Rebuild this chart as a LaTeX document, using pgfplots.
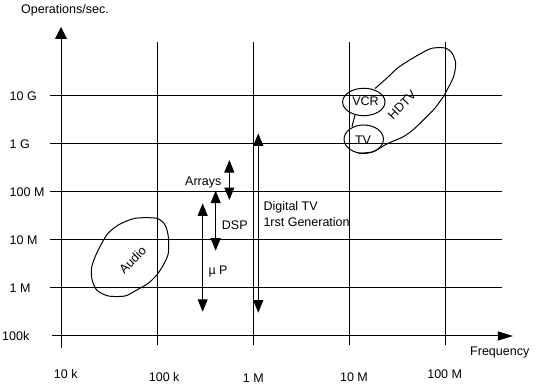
\documentclass[border=0pt]{standalone}
\usepackage{pgfplots}
\pgfplotsset{compat=1.18}
\usepackage{fontspec}
\setmainfont{Liberation Sans}
\usetikzlibrary{arrows.meta}
\tikzset{tri/.tip={Triangle[width=10bp,length=12.5bp]},
  ytri/.tip={Triangle[width=12bp,length=12bp]},
  xtri/.tip={Triangle[width=9bp,length=15bp]}}
\begin{document}%
\fontsize{12.5bp}{15bp}\selectfont%
\begin{tikzpicture}
\begin{axis}[
  scale only axis, width=537bp, height=388bp,
  xmode=log, ymode=log,
  xmin=2318, xmax=8.998e8, ymin=8254, ymax=1e12,
  hide axis, clip=false, no markers,
  every axis plot/.append style={line width=1bp, black, mark=none},
]
% horizontal grid lines
\draw[line width=1bp] (axis cs:7.68e3,1e10) -- (axis cs:3.89e8,1e10);
\draw[line width=1bp] (axis cs:7.68e3,1e9) -- (axis cs:3.89e8,1e9);
\draw[line width=1bp] (axis cs:7.68e3,1e8) -- (axis cs:3.89e8,1e8);
\draw[line width=1bp] (axis cs:7.68e3,1e7) -- (axis cs:3.89e8,1e7);
\draw[line width=1bp] (axis cs:7.68e3,1e6) -- (axis cs:3.89e8,1e6);
% x axis
\draw[line width=1bp,-xtri] (axis cs:8.06e3,1e5) -- (axis cs:5.06e8,1e5);
% vertical grid lines
\draw[line width=1bp] (axis cs:1e5,6.49e4) -- (axis cs:1e5,1.33e11);
\draw[line width=1bp] (axis cs:1e6,6.49e4) -- (axis cs:1e6,1.33e11);
\draw[line width=1bp] (axis cs:1e7,6.49e4) -- (axis cs:1e7,1.33e11);
\draw[line width=1bp] (axis cs:1e8,6.49e4) -- (axis cs:1e8,1.33e11);
% y axis
\draw[line width=1bp,-ytri] (axis cs:1e4,5.62e4) -- (axis cs:1e4,2.74e11);
% tick labels
\node[anchor=west,inner sep=0pt] at (axis cs:2.91e3,1e10) {10 G};
\node[anchor=west,inner sep=0pt] at (axis cs:2.91e3,1e9) {1 G};
\node[anchor=west,inner sep=0pt] at (axis cs:2.91e3,1e8) {100 M};
\node[anchor=west,inner sep=0pt] at (axis cs:2.91e3,1e7) {10 M};
\node[anchor=west,inner sep=0pt] at (axis cs:2.91e3,1e6) {1 M};
\node[anchor=west,inner sep=0pt] at (axis cs:2.43e3,1e5) {100k};
\node[inner sep=0pt] at (axis cs:1.122e4,1.616e4) {10 k};
\node[inner sep=0pt] at (axis cs:1.186e5,1.399e4) {100 k};
\node[inner sep=0pt] at (axis cs:1.003e6,1.334e4) {1 M};
\node[inner sep=0pt] at (axis cs:1.121e7,1.399e4) {10 M};
\node[inner sep=0pt] at (axis cs:9.85e7,1.616e4) {100 M};
\node[anchor=base west,inner sep=0pt] at (axis cs:3.835e3,5.23e11) {Operations/sec.};
\node[anchor=base west,inner sep=0pt] at (axis cs:1.807e8,3.886e4) {Frequency};
% ranges (arrows)
\addplot[tri-tri] coordinates {(2.98e5,5.8e7) (2.98e5,3.2e5)};   % muP
\addplot[tri-tri] coordinates {(4.07e5,1.065e8) (4.07e5,5.99e6)}; % DSP
\addplot[tri-tri] coordinates {(5.65e5,4.64e8) (5.65e5,6.81e7)};  % Arrays
\addplot[tri-tri] coordinates {(1.13e6,1.67e9) (1.13e6,3.06e5)};  % Digital TV
\node[anchor=base west,inner sep=0pt] at (axis cs:3.414e5,1.957e6) {µ P};
\node[anchor=base west,inner sep=0pt] at (axis cs:4.706e5,1.616e7) {DSP};
\node[anchor=base west,inner sep=0pt] at (axis cs:1.953e5,1.353e8) {Arrays};
\node[anchor=base west,inner sep=0pt] at (axis cs:1.275e6,4.077e7) {Digital TV};
\node[anchor=base west,inner sep=0pt] at (axis cs:1.275e6,1.884e7) {1rst Generation};
% Audio region
\addplot[smooth cycle, tension=0.45] coordinates {
 (5.89e4,2.83e7) (9.91e4,2.83e7) (1.21e5,2.054e7) (1.31e5,1.17e7)
 (1.31e5,5.28e6) (1.161e5,3.01e6) (9.91e4,1.866e6) (8.10e4,1.253e6)
 (6.14e4,9.08e5) (4.64e4,6.81e5) (3.11e4,6.81e5) (2.35e4,9.08e5)
 (2.09e4,1.593e6) (2.09e4,2.778e6) (2.35e4,5.28e6) (2.99e4,1.272e7)
 (3.95e4,2.054e7)};
\node[rotate=45,inner sep=0pt] at (axis cs:5.548e4,3.831e6) {Audio};
% HDTV region
\addplot[smooth, tension=0.45] coordinates {
 (1.854e7,1.433e10) (2.45e7,2.337e10) (3.14e7,3.741e10) (3.99e7,5.184e10)
 (5.32e7,7.319e10) (7.22e7,9.857e10) (9.92e7,1e11) (1.174e8,7.866e10)
 (1.282e8,4.8e10) (1.217e8,2.488e10) (1.041e8,1.334e10) (9.53e7,9.67e9)
 (7.81e7,5.62e9) (6.40e7,3.705e9) (4.72e7,2.054e9) (3.653e7,1.419e9)
 (2.45e7,1e9) (1.78e7,6.91e8) (1.243e7,6.40e8)};
\addplot[black] coordinates {(1.148e7,4.02e9) (1.068e7,2.293e9)};
\draw[line width=1bp] (axis cs:1.418e7,7.5e9) ellipse [x radius=21.2bp, y radius=13.7bp];
\draw[line width=1bp] (axis cs:1.415e7,1.259e9) ellipse [x radius=19.7bp, y radius=14.2bp];
\node[inner sep=0pt] at (axis cs:1.477e7,7.68e9) {VCR};
\node[inner sep=0pt] at (axis cs:1.391e7,1.183e9) {TV};
\node[rotate=45,inner sep=0pt] at (axis cs:3.541e7,6.49e9) {HDTV};
\end{axis}
\pgfresetboundingbox
\useasboundingbox (current axis.south west) rectangle (current axis.north east);
\end{tikzpicture}%
\end{document}
